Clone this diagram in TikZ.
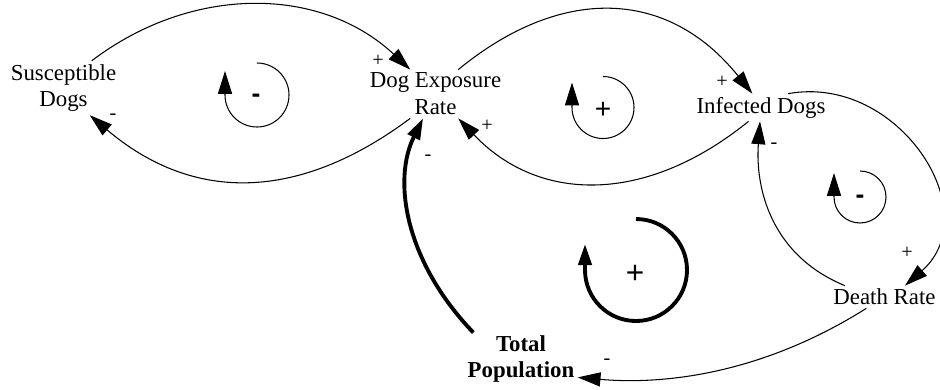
\documentclass[tikz,border=0pt]{standalone}
\usepackage{fontspec}
\setmainfont{Liberation Serif}
\setsansfont{Liberation Sans}
\usetikzlibrary{arrows.meta}

\begin{document}
\begin{tikzpicture}[x=0.02cm, y=-0.02cm,
  var/.style={font=\fontsize{13}{15.3}\selectfont, align=center, inner sep=1.7pt},
  link/.style={line width=0.6pt, -{Triangle[length=13pt,width=8pt]}},
  biglink/.style={line width=2.2pt, -{Triangle[length=12pt,width=7.5pt]}},
  pol/.style={font=\fontsize{11.5}{12}\selectfont, inner sep=0pt},
  loopsign/.style={font=\sffamily\fontsize{16}{18}\selectfont, inner sep=0pt}]
\useasboundingbox (0,0) rectangle (940,389);
% variables
\node[var] (sus) at (63.5,88) {Susceptible\\Dogs};
\node[var] (dog) at (435.5,94) {Dog Exposure\\Rate};
\node[var] (inf) at (761,107.5) {Infected Dogs};
\node[var] (death) at (884.5,297) {Death Rate};
\node[var, font=\bfseries\fontsize{13}{14.5}\selectfont] (tot) at (521,359) {Total\\Population};
% links
\draw[link] (sus.44) .. controls +(100,-76) and +(-90,-84) .. (dog.136);
\draw[link] (dog.-136) .. controls +(-110,82) and +(105,89) .. (sus.-46);
\draw[link] (dog.47) .. controls +(101,-83) and +(-86,-107) .. (inf.122);
\draw[link] (inf.-132) .. controls +(-101,82) and +(82,86) .. (dog.-47);
\draw[link] (inf.27) .. controls +(110,-20) and +(83,-73) .. (death.29);
\draw[link] (death.164) .. controls +(-73,-30) and +(-5,68) .. (inf.-94);
\draw[link] (death.-148) .. controls +(-100,63) and +(92,8) .. (tot.-18);
\draw[biglink] (tot.151) .. controls +(-68,-71) and +(-31,62) .. (dog.-117);
% polarities
\node[pol] at (378,61) {+};
\node[pol] at (113,117) {-};
\node[pol] at (487,126) {+};
\node[pol] at (428,158) {-};
\node[pol] at (722,82) {+};
\node[pol] at (774,146) {-};
\node[pol] at (907,253) {+};
\node[pol] at (607,362) {-};
% loops
\draw[link] (257,63) arc[start angle=-90, end angle=180, radius=32] -- ++(0,-24);
\node[loopsign, font=\sffamily\bfseries\fontsize{15}{18}\selectfont] at (256,98) {-};
\draw[link] (603,76.5) arc[start angle=-90, end angle=180, radius=31] -- ++(0,-25);
\node[loopsign] at (603,110) {+};
\draw[link] (860,171) arc[start angle=-90, end angle=180, radius=26] -- ++(0,-24);
\node[loopsign, font=\sffamily\bfseries\fontsize{15}{18}\selectfont] at (860,199) {-};
\draw[biglink] (636,219) arc[start angle=-90, end angle=180, radius=51] -- ++(0,-26);
\node[loopsign, font=\sffamily\fontsize{18}{20}\selectfont] at (635,274) {+};
\end{tikzpicture}
\end{document}
